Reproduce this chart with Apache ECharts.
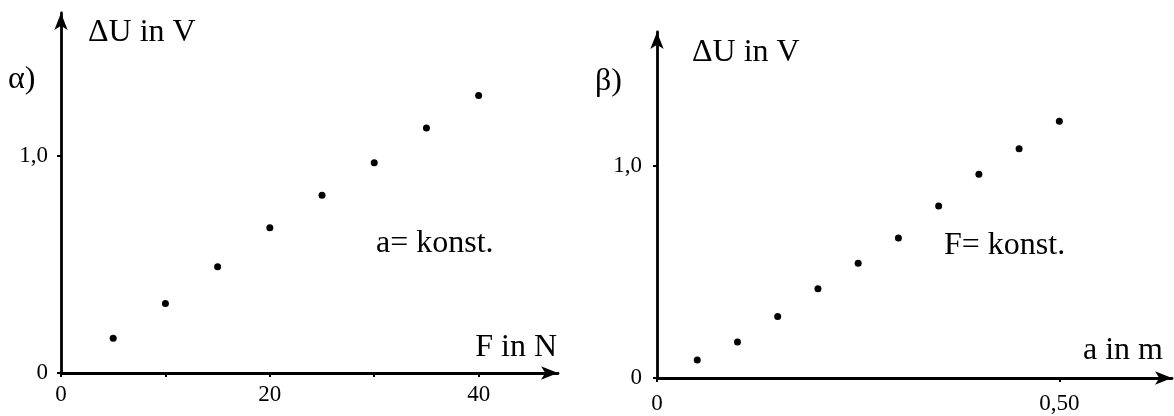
<!DOCTYPE html>
<html>
<head>
<meta charset="utf-8">
<script src="https://cdn.jsdelivr.net/npm/echarts@6/dist/echarts.min.js"></script>
<style>
  html, body { margin: 0; padding: 0; background: #fff; }
  #chart { width: 1174px; height: 416px; }
</style>
</head>
<body>
<div id="chart"></div>
<script>
// Panel α: voltage change against force (a constant)
const forceN = [5, 10, 15, 20, 25, 30, 35, 40];
const dUForce = [0.16, 0.32, 0.49, 0.67, 0.82, 0.97, 1.13, 1.28];

// Panel β: voltage change against distance (F constant)
const distM = [0.05, 0.10, 0.15, 0.20, 0.25, 0.30, 0.35, 0.40, 0.45, 0.50];
const dUDist = [0.085, 0.17, 0.29, 0.42, 0.54, 0.66, 0.81, 0.96, 1.08, 1.21];

// Tick positions and their printed labels
const forceTicks = [0, 10, 20, 30, 40];
const forceTickLabels = ['0', '', '20', '', '40'];
const distTicks = [0, 0.5];
const distTickLabels = ['0', '0,50'];
const voltTicks = [0, 1];
const voltTickLabels = ['0', '1,0'];

const FONT = '"Liberation Serif", "DejaVu Serif", serif';
const INK = '#000';

function labelFor(ticks, labels) {
  return function (v) {
    for (let i = 0; i < ticks.length; i++) {
      if (Math.abs(ticks[i] - v) < 1e-9) return labels[i];
    }
    return '';
  };
}

function axisLineArrow() {
  return {
    show: true,
    onZero: false,
    symbol: ['none', 'arrow'],
    symbolSize: [10, 17],
    lineStyle: { color: INK, width: 2.8 }
  };
}

function xAxisDef(gridIndex, max, ticks, labels, margin) {
  return {
    type: 'value',
    gridIndex: gridIndex,
    min: 0,
    max: max,
    splitLine: { show: false },
    axisLine: axisLineArrow(),
    axisTick: { show: true, length: 4, inside: false, customValues: ticks, lineStyle: { color: INK, width: 2 } },
    axisLabel: {
      customValues: ticks,
      formatter: labelFor(ticks, labels),
      margin: margin,
      color: INK,
      fontFamily: FONT,
      fontSize: 23
    }
  };
}

function yAxisDef(gridIndex, max, margin) {
  return {
    type: 'value',
    gridIndex: gridIndex,
    min: 0,
    max: max,
    splitLine: { show: false },
    axisLine: axisLineArrow(),
    axisTick: { show: true, length: 4, inside: false, customValues: voltTicks, lineStyle: { color: INK, width: 2 } },
    axisLabel: {
      customValues: voltTicks,
      formatter: labelFor(voltTicks, voltTickLabels),
      margin: margin,
      color: INK,
      fontFamily: FONT,
      fontSize: 23
    }
  };
}

function pairs(xs, ys) {
  return xs.map((x, i) => [x, ys[i]]);
}

function textEl(str, x, y, align, size) {
  return {
    type: 'text',
    x: x,
    y: y,
    style: {
      text: str,
      fill: INK,
      font: size + 'px ' + FONT,
      textAlign: align,
      textVerticalAlign: 'middle'
    }
  };
}

function dots(xIdx, data) {
  return {
    type: 'scatter',
    xAxisIndex: xIdx,
    yAxisIndex: xIdx,
    data: data,
    symbol: 'circle',
    symbolSize: 7,
    itemStyle: { color: INK, opacity: 1 }
  };
}

const chart = echarts.init(document.getElementById('chart'), null, { renderer: 'canvas' });

chart.setOption({
  backgroundColor: '#ffffff',
  animation: false,
  grid: [
    { left: 61, top: 13, width: 497, height: 360, outerBoundsMode: 'none', containLabel: false },
    { left: 657, top: 32, width: 515, height: 346, outerBoundsMode: 'none', containLabel: false }
  ],
  xAxis: [
    xAxisDef(0, 47.6, forceTicks, forceTickLabels, 10),
    xAxisDef(1, 0.64, distTicks, distTickLabels, 14)
  ],
  yAxis: [
    yAxisDef(0, 1.66, 13),
    yAxisDef(1, 1.63, 15)
  ],
  series: [
    dots(0, pairs(forceN, dUForce)),
    dots(1, pairs(distM, dUDist))
  ],
  graphic: [
    textEl('α)', 8, 80, 'left', 32),
    textEl('ΔU in V', 88, 33, 'left', 32),
    textEl('F in N', 557, 348, 'right', 32),
    textEl('a= konst.', 376, 244, 'left', 32),
    textEl('β)', 595, 82, 'left', 32),
    textEl('ΔU in V', 692, 53, 'left', 32),
    textEl('a in m', 1163, 351, 'right', 32),
    textEl('F= konst.', 944, 246, 'left', 32)
  ]
});
</script>
</body>
</html>
